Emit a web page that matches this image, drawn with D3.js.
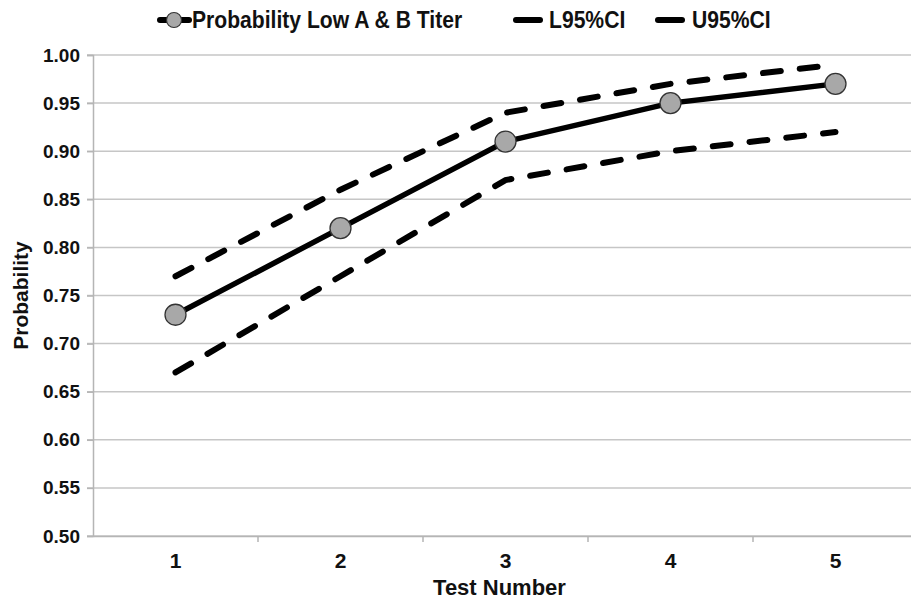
<!DOCTYPE html>
<html>
<head>
<meta charset="utf-8">
<script src="https://cdn.jsdelivr.net/npm/d3@7"></script>
<style>
  body { margin: 0; background: #fff; }
  text { font-family: "Liberation Sans", Arial, sans-serif; font-weight: bold; }
</style>
</head>
<body>
<div id="chart"></div>
<script>
// data
const tests = ["1", "2", "3", "4", "5"];
const probability = [0.73, 0.82, 0.91, 0.95, 0.97];
const lower95 = [0.67, 0.77, 0.87, 0.90, 0.92];
const upper95 = [0.77, 0.86, 0.94, 0.97, 0.99];
const yTicks = [0.50, 0.55, 0.60, 0.65, 0.70, 0.75, 0.80, 0.85, 0.90, 0.95, 1.00];

const W = 911, H = 601;
const margin = {top: 55, right: -7, bottom: 65, left: 93};
const width = W - margin.left - margin.right,
      height = H - margin.top - margin.bottom;

const svg = d3.select("#chart")
  .append("svg")
  .attr("width", W)
  .attr("height", H);

const g = svg.append("g")
  .attr("transform", `translate(${margin.left},${margin.top})`);

const x = d3.scaleBand()
  .domain(tests)
  .range([0, width]);

const y = d3.scaleLinear()
  .domain([0.5, 1.0])
  .range([height, 0]);

// gridlines
g.append("g")
  .selectAll("line")
  .data(yTicks)
  .join("line")
    .attr("x1", -6)
    .attr("x2", width)
    .attr("y1", d => y(d))
    .attr("y2", d => y(d))
    .attr("stroke", "#c6c6c6")
    .attr("stroke-width", 1.5);

// y axis
const yAxis = g.append("g")
  .call(d3.axisLeft(y).tickValues(yTicks).tickFormat(d3.format(".2f")).tickSize(6));
yAxis.select(".domain").attr("stroke", "#b5b5b5").attr("stroke-width", 1.5);
yAxis.selectAll(".tick line").attr("stroke", "#b5b5b5").attr("stroke-width", 1.5);
yAxis.selectAll("text")
  .attr("x", -13)
  .attr("font-size", 19)
  .attr("fill", "#111");

// x axis, ticks between categories
const xAxis = g.append("g")
  .attr("transform", `translate(0,${height})`)
  .call(d3.axisBottom(x).tickSize(0).tickPadding(17));
xAxis.select(".domain").attr("stroke", "#b5b5b5").attr("stroke-width", 1.5);
xAxis.selectAll("text")
  .attr("font-size", 21)
  .attr("fill", "#111");
xAxis.selectAll(".sep")
  .data(tests.slice(1))
  .join("line")
    .attr("class", "sep")
    .attr("x1", d => x(d))
    .attr("x2", d => x(d))
    .attr("y1", 0)
    .attr("y2", 6)
    .attr("stroke", "#b5b5b5")
    .attr("stroke-width", 1.5);

// axis titles
g.append("text")
  .attr("x", width / 2 - 6)
  .attr("y", height + 59)
  .attr("text-anchor", "middle")
  .attr("font-size", 22)
  .attr("fill", "#111")
  .text("Test Number");

g.append("text")
  .attr("transform", `translate(${-margin.left + 28},${height / 2}) rotate(-90)`)
  .attr("text-anchor", "middle")
  .attr("font-size", 21)
  .attr("fill", "#111")
  .text("Probability");

const cx = (d, i) => x(tests[i]) + x.bandwidth() / 2;
const line = d3.line().x(cx).y(d => y(d));

// CI lines
[lower95, upper95].forEach(s => {
  g.append("path")
    .datum(s)
    .attr("d", line)
    .attr("fill", "none")
    .attr("stroke", "#000")
    .attr("stroke-width", 6)
    .attr("stroke-dasharray", "18,19")
    .attr("stroke-linecap", "round");
});

// main line
g.append("path")
  .datum(probability)
  .attr("d", line)
  .attr("fill", "none")
  .attr("stroke", "#000")
  .attr("stroke-width", 5.5);

g.selectAll(".pt")
  .data(probability)
  .join("circle")
    .attr("class", "pt")
    .attr("cx", cx)
    .attr("cy", d => y(d))
    .attr("r", 10.5)
    .attr("fill", "#a8a8a8")
    .attr("stroke", "#333")
    .attr("stroke-width", 1.3);

// legend
const legend = svg.append("g").attr("transform", "translate(0,20)");
const items = [
  {label: "Probability Low A & B Titer", x: 157, tx: 192, marker: true},
  {label: "L95%CI", x: 512, tx: 549, marker: false},
  {label: "U95%CI", x: 654, tx: 692, marker: false}
];
items.forEach(it => {
  if (it.marker) {
    legend.append("line")
      .attr("x1", it.x + 3).attr("x2", it.x + 32)
      .attr("y1", 0).attr("y2", 0)
      .attr("stroke", "#000").attr("stroke-width", 6)
      .attr("stroke-linecap", "round");
    legend.append("circle")
      .attr("cx", it.x + 17).attr("cy", 0).attr("r", 7.5)
      .attr("fill", "#a8a8a8").attr("stroke", "#333").attr("stroke-width", 1.2);
  } else {
    legend.append("line")
      .attr("x1", it.x + 4).attr("x2", it.x + 28)
      .attr("y1", 0).attr("y2", 0)
      .attr("stroke", "#000").attr("stroke-width", 6)
      .attr("stroke-linecap", "round");
  }
  legend.append("text")
    .attr("transform", `translate(${it.tx},8) scale(0.88,1)`)
    .attr("font-size", 24)
    .attr("fill", "#111")
    .text(it.label);
});
</script>
</body>
</html>
